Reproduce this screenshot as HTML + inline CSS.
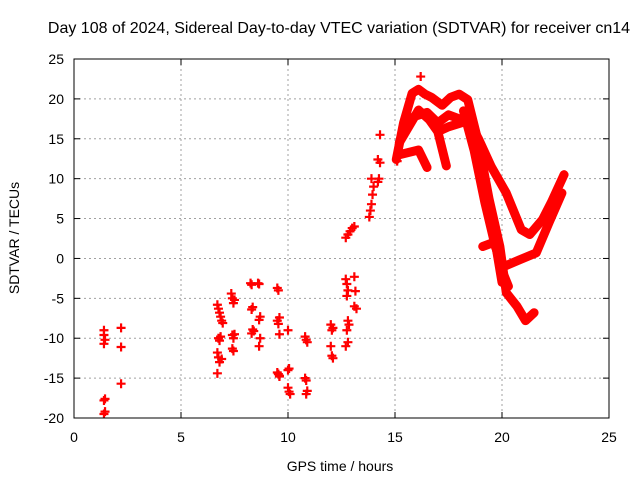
<!DOCTYPE html>
<html><head><meta charset="utf-8"><style>
body{margin:0;background:#fff}
svg{display:block;font-family:"Liberation Sans",sans-serif}
</style></head><body>
<svg id="chart" width="640" height="480">
<text x="339" y="33" font-size="16" text-anchor="middle">Day 108 of 2024, Sidereal Day-to-day VTEC variation (SDTVAR) for receiver cn14</text>
<text x="340" y="471" font-size="14" text-anchor="middle">GPS time / hours</text>
<text transform="translate(19,238) rotate(-90)" font-size="14" text-anchor="middle">SDTVAR / TECUs</text>
<g id="grid"></g><g id="marks"></g><g id="axes"></g>
</svg>
<script>
const xTicks=[0,5,10,15,20,25];
const yTicks=[-20,-15,-10,-5,0,5,10,15,20,25];
const scatterX=[1.4,1.4,1.45,1.4,1.45,1.4,1.45,1.4,2.2,2.2,2.2,
6.7,6.75,6.8,6.85,6.9,6.95,6.75,6.8,6.85,6.7,6.75,6.8,6.9,6.7,
7.35,7.4,7.45,7.5,7.4,7.45,7.5,7.4,7.45,
8.25,8.3,8.35,8.3,8.35,8.3,8.4,
8.6,8.65,8.7,8.65,8.7,8.65,
9.5,9.55,9.6,9.5,9.55,9.6,9.5,9.6,9.55,9.6,
10.0,10.05,10.0,10.05,10.1,10.0,
10.8,10.85,10.9,10.8,10.85,10.9,10.85,
12.0,12.05,12.1,12.0,12.05,12.1,
12.7,12.75,12.8,12.75,12.8,12.85,12.75,12.8,12.7,
13.1,13.15,13.1,13.2,
12.7,12.8,12.9,13.0,13.1,
13.8,13.85,13.9,13.95,14.0,13.9,14.2,14.25,14.3,14.2,14.3,
15.1,15.2,16.2];
const scatterY=[-9.0,-9.6,-10.2,-10.7,-17.6,-17.8,-19.2,-19.5,-8.7,-11.1,-15.7,
-5.8,-6.3,-6.8,-7.3,-7.8,-8.1,-10.0,-10.3,-9.8,-11.8,-12.4,-13.0,-12.6,-14.4,
-4.4,-5.0,-5.6,-5.2,-9.6,-10.0,-9.5,-11.3,-11.6,
-3.1,-3.3,-6.1,-6.4,-8.9,-9.4,-9.1,
-3.1,-3.2,-7.3,-7.7,-10.0,-11.0,
-3.7,-4.0,-7.4,-7.8,-8.2,-9.5,-14.3,-14.7,-14.5,-14.8,
-9.0,-13.8,-16.2,-16.7,-17.0,-14.0,
-9.8,-10.2,-10.5,-15.0,-15.3,-16.6,-17.0,
-8.3,-9.0,-8.7,-11.0,-12.2,-12.5,
-2.6,-3.2,-4.0,-4.7,-7.8,-8.3,-9.0,-10.5,-11.0,
-2.3,-4.1,-6.0,-6.3,
2.6,3.0,3.4,3.8,4.0,
5.2,6.0,6.8,8.0,9.0,10.0,9.6,10.0,12.0,12.4,15.5,
12.2,13.0,22.8];
const trackA_x=[15.06,15.4,15.8,16.1,16.4,16.7,17.2,17.6,18.0,18.4,18.9,19.4,19.9,20.2,20.7,21.1,21.5];
const trackA_y=[12.4,17.0,20.7,21.2,20.6,20.2,19.2,20.2,20.6,19.9,14.5,7.4,1.5,-4.3,-6.0,-7.8,-6.8];
const trackA2_x=[18.2,18.7,19.2,19.6,20.0,20.3];
const trackA2_y=[18.5,13.5,7.0,2.5,-1.5,-3.5];
const trackB_x=[18.4,18.9,19.5,20.2,20.9,21.3,21.9,22.3,22.9];
const trackB_y=[17.5,15.0,11.5,8.2,3.6,3.0,4.9,7.0,10.5];
const trackC_x=[19.1,19.6,20.1,20.8,21.6,22.2,22.8];
const trackC_y=[1.5,2.0,-1.0,-0.2,0.7,4.5,8.2];
const trackD_x=[15.2,16.1,16.6,17.0,17.4];
const trackD_y=[14.5,18.6,17.4,15.9,11.6];
const trackE_x=[17.0,17.5,18.1,18.5,19.0,19.5,20.0];
const trackE_y=[15.9,16.5,17.0,18.5,12.0,5.0,-3.0];
const trackF_x=[15.2,16.1,16.5];
const trackF_y=[13.0,13.6,11.4];
const trackG_x=[15.3,15.9,16.5,17.0,17.5,18.0];
const trackG_y=[15.5,17.8,18.3,17.0,18.0,17.5];

const L=74,R=609,T=59,B=418;
const sx=v=>L+(v-0)/(25-0)*(R-L);
const sy=v=>B-(v+20)/45*(B-T);
const NS='http://www.w3.org/2000/svg';
function mk(tag,attrs,parent){const e=document.createElementNS(NS,tag);for(const k in attrs)e.setAttribute(k,attrs[k]);parent.appendChild(e);return e;}
const grid=document.getElementById('grid'),marks=document.getElementById('marks'),axes=document.getElementById('axes');
xTicks.forEach(t=>{const x=sx(t);
 if(t>0&&t<25){const g=mk('line',{x1:x,x2:x,y1:T,y2:B,stroke:'#a0a0a0','stroke-dasharray':'2,3','stroke-width':1},grid);
 
 }
 const tl=mk('text',{x:x,y:B+24,'font-size':14,'text-anchor':'middle'},axes);tl.textContent=t;
 
 
 mk('line',{x1:x,x2:x,y1:B,y2:B-6,stroke:'#000'},axes);mk('line',{x1:x,x2:x,y1:T,y2:T+6,stroke:'#000'},axes);});
yTicks.forEach(t=>{const y=sy(t);
 if(t>-20&&t<25){const g=mk('line',{x1:L,x2:R,y1:y,y2:y,stroke:'#a0a0a0','stroke-dasharray':'2,3','stroke-width':1},grid);
 
 }
 const tl=mk('text',{x:L-10,y:y+5,'font-size':14,'text-anchor':'end'},axes);tl.textContent=t;
 
 
 mk('line',{x1:L,x2:L+6,y1:y,y2:y,stroke:'#000'},axes);mk('line',{x1:R,x2:R-6,y1:y,y2:y,stroke:'#000'},axes);});
const frame=mk('rect',{x:L,y:T,width:R-L,height:B-T,fill:'none',stroke:'#000','stroke-width':1},axes);


[[trackA_x,trackA_y],[trackA2_x,trackA2_y],[trackB_x,trackB_y],[trackC_x,trackC_y],[trackD_x,trackD_y],[trackE_x,trackE_y],[trackF_x,trackF_y],[trackG_x,trackG_y]].forEach(([xs,ys])=>{
 const p=mk('polyline',{points:xs.map((x,i)=>sx(x)+','+sy(ys[i])).join(' '),fill:'none',stroke:'#ff0000','stroke-width':9,'stroke-linejoin':'round','stroke-linecap':'round'},marks);
 
 });
scatterX.forEach((x,i)=>{const cx=sx(x),cy=sy(scatterY[i]);
 const p=mk('path',{d:`M${cx-4.5},${cy}H${cx+4.5}M${cx},${cy-4.5}V${cy+4.5}`,stroke:'#ff0000','stroke-width':2.2},marks);
 
 });
</script>
</body></html>
